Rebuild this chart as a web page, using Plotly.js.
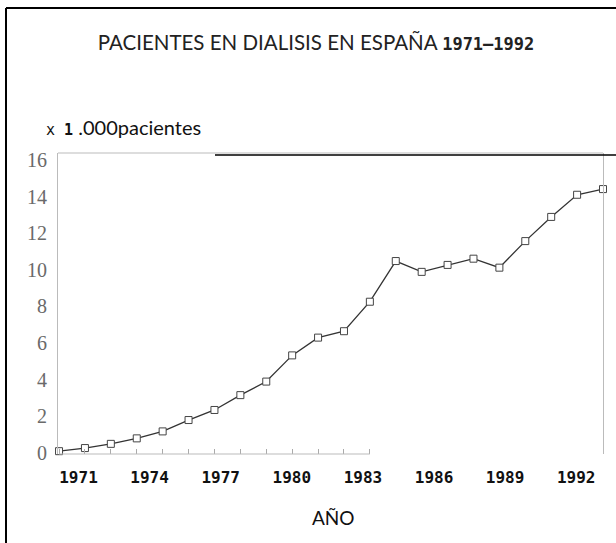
<!DOCTYPE html>
<html>
<head>
<meta charset="utf-8">
<script src="https://cdn.plot.ly/plotly-3.0.1.min.js"></script>
<style>
  html, body { margin: 0; padding: 0; background: #fff; }
  #chart { width: 616px; height: 543px; }
</style>
</head>
<body>
<div id="chart"></div>
<script>
// Años y pacientes en diálisis (miles)
const years = [1971, 1972, 1973, 1974, 1975, 1976, 1977, 1978, 1979, 1980, 1981,
               1982, 1983, 1984, 1985, 1986, 1987, 1988, 1989, 1990, 1991, 1992];
const pacientes = [0.1, 0.27, 0.5, 0.8, 1.18, 1.8, 2.35, 3.16, 3.9, 5.33, 6.3,
                   6.65, 8.26, 10.48, 9.89, 10.27, 10.61, 10.12, 11.57, 12.89, 14.1, 14.41];
const yTicks = [0, 2, 4, 6, 8, 10, 12, 14, 16];
const labelYears = [1971, 1974, 1977, 1980, 1983, 1986, 1989, 1992];
const tickedYears = years.slice(0, 13);

const mono = "DejaVu Sans Mono";
const gill = "Lato, 'Open Sans', sans-serif";

const traces = [
  {
    x: years,
    y: pacientes,
    mode: 'lines+markers',
    line: { color: '#333333', width: 1.3 },
    marker: { symbol: 'square', size: 7, color: '#ffffff', line: { color: '#444444', width: 1 } },
    cliponaxis: false,
    hoverinfo: 'x+y',
    showlegend: false
  },
  {
    x: labelYears,
    y: labelYears.map(() => null),
    xaxis: 'x2',
    mode: 'markers',
    hoverinfo: 'skip',
    showlegend: false
  }
];

const layout = {
  width: 616,
  height: 543,
  margin: { l: 58, r: 13, t: 153, b: 89 },
  paper_bgcolor: '#ffffff',
  plot_bgcolor: '#ffffff',
  showlegend: false,
  title: {
    text: "PACIENTES EN DIALISIS EN ESPAÑA <span style=\"font-family:DejaVu Sans Mono;font-weight:bold;font-size:17px\">1971–1992</span>",
    font: { family: gill, size: 20.5, color: '#222222' },
    x: 0.513, xref: 'container', xanchor: 'center',
    y: 1 - 43 / 543, yref: 'container', yanchor: 'middle'
  },
  xaxis: {
    range: [1970.96, 1992.0],
    showgrid: false, zeroline: false, showline: false,
    tickvals: tickedYears,
    ticks: 'inside', ticklen: 5, tickcolor: '#aaaaaa', tickwidth: 1,
    showticklabels: false,
    fixedrange: true
  },
  xaxis2: {
    overlaying: 'x', anchor: 'y', side: 'bottom',
    range: [1970.135, 1993.13],
    showgrid: false, zeroline: false, showline: false,
    tickvals: labelYears,
    ticktext: labelYears.map(String),
    ticks: '',
    ticklabelstandoff: 12,
    tickfont: { family: mono, size: 16, color: '#111111', weight: 'bold' },
    fixedrange: true
  },
  yaxis: {
    range: [-0.054, 16.38],
    tickvals: yTicks,
    ticktext: yTicks.map(String),
    ticks: '',
    ticklabelstandoff: 6,
    tickfont: { family: "'Liberation Serif', serif", size: 20, color: '#6a6a6a' },
    showgrid: false, zeroline: false,
    showline: true, mirror: true, linecolor: '#bbbbbb', linewidth: 1,
    fixedrange: true
  },
  annotations: [
    {
      text: "<span style=\"font-family:DejaVu Sans Mono;font-size:15px\">x <b>1</b></span> .000pacientes",
      xref: 'paper', yref: 'paper',
      x: (44 - 58) / 545, y: (454 - 127) / 301,
      xanchor: 'left', yanchor: 'middle',
      showarrow: false,
      font: { family: gill, size: 20, color: '#111111' }
    },
    {
      text: "AÑO",
      xref: 'paper', yref: 'paper',
      x: (333 - 58) / 545, y: (454 - 517) / 301,
      xanchor: 'center', yanchor: 'middle',
      showarrow: false,
      font: { family: gill, size: 19, color: '#111111' }
    }
  ],
  shapes: [
    // top gray frame of plot
    { type: 'line', xref: 'paper', yref: 'paper', x0: 0, x1: 1, y0: 1, y1: 1,
      line: { color: '#bbbbbb', width: 1 } },
    // partial bottom axis
    { type: 'line', xref: 'x', yref: 'paper', x0: tickedYears[0], x1: tickedYears[tickedYears.length - 1], y0: 0, y1: 0,
      line: { color: '#bbbbbb', width: 1 } },
    // black line near top
    { type: 'line', xref: 'paper', yref: 'paper', x0: (215 - 58) / 545, x1: (616 - 58) / 545, y0: 1 - 2 / 301, y1: 1 - 2 / 301,
      line: { color: '#000000', width: 1.5 } },
    // outer frame: left and top
    { type: 'line', xref: 'paper', yref: 'paper', x0: (6 - 58) / 545, x1: (6 - 58) / 545, y0: (454 - 8) / 301, y1: (454 - 545) / 301,
      line: { color: '#000000', width: 2 } },
    { type: 'line', xref: 'paper', yref: 'paper', x0: (6 - 58) / 545, x1: (618 - 58) / 545, y0: (454 - 8) / 301, y1: (454 - 8) / 301,
      line: { color: '#000000', width: 2 } }
  ]
};

Plotly.newPlot('chart', traces, layout, { displayModeBar: false, staticPlot: true });
</script>
</body>
</html>
